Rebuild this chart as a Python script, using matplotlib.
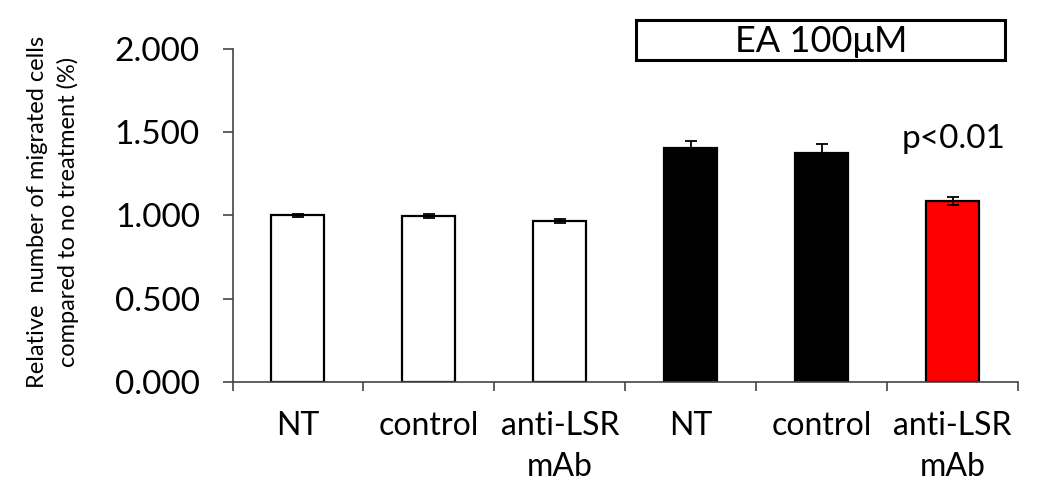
import matplotlib
matplotlib.use('Agg')
import matplotlib.pyplot as plt
from matplotlib.patches import Rectangle
from matplotlib import font_manager

# Data
categories = ['NT', 'control', 'anti-LSR\nmAb', 'NT', 'control', 'anti-LSR\nmAb']
values = [1.000, 0.997, 0.967, 1.403, 1.378, 1.088]
errors = [0.008, 0.012, 0.012, 0.045, 0.050, 0.025]
bar_colors = ['white', 'white', 'white', 'black', 'black', '#ff0000']
y_ticks = [0.0, 0.5, 1.0, 1.5, 2.0]

installed = {f.name for f in font_manager.fontManager.ttflist}
families = [f for f in ['Liberation Sans Narrow', 'Lato', 'DejaVu Sans'] if f in installed]
plt.rcParams['font.family'] = families

W, H = 1044, 484
fig = plt.figure(figsize=(W / 100, H / 100), dpi=100)
ax = fig.add_axes([232.5 / W, 1 - 381.7 / H, 785.5 / W, 332.5 / H])

x = [i + 0.5 for i in range(len(values))]
ax.bar(x, values, width=0.405, color=bar_colors, edgecolor='black', linewidth=1.6, zorder=2)
ax.errorbar(x, values, yerr=errors, fmt='none', ecolor='black', elinewidth=1.3,
            capsize=4, capthick=1.3, zorder=3)

ax.set_xlim(0, 6)
ax.set_ylim(0, 2.0)
ax.set_yticks(y_ticks)
ax.set_yticklabels([f'{v:.3f}' for v in y_ticks], fontsize=24)
ax.set_xticks(range(7))
ax.set_xticklabels([])
ax.set_xticks(x, minor=True)
ax.set_xticklabels(categories, minor=True, fontsize=23, linespacing=1.45)
ax.tick_params(axis='x', which='minor', length=0, pad=21)
ax.tick_params(axis='x', which='major', length=6.5, width=1.2, color='#444444', direction='out')
ax.tick_params(axis='y', length=7.5, width=1.2, color='#444444', pad=16)

for side in ['top', 'right']:
    ax.spines[side].set_visible(False)
for side in ['left', 'bottom']:
    ax.spines[side].set_color('#444444')
    ax.spines[side].set_linewidth(1.2)

fig.text(53 / W, 1 - 212 / H,
         'Relative  number of migrated cells\ncompared to no treatment (%)',
         rotation=90, ha='center', va='center', fontsize=17, linespacing=1.45)

# condition box
fig.patches.append(Rectangle((636 / W, 1 - 60 / H), 369 / W, 40 / H,
                             transform=fig.transFigure, fill=False,
                             edgecolor='black', linewidth=2.2))
fig.text(821 / W, 1 - 41 / H, 'EA 100μM', ha='center', va='center', fontsize=26)

ax.text(5.51, 1.405, 'p<0.01', ha='center', va='baseline', fontsize=24)

plt.savefig('out.png', dpi=100)
